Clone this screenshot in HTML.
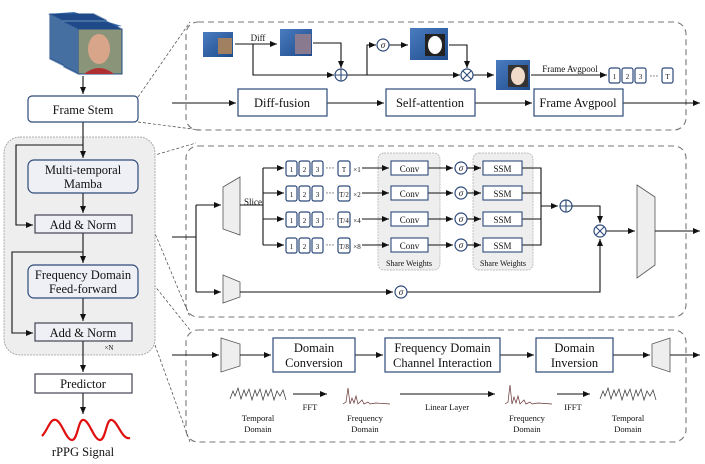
<!DOCTYPE html>
<html><head><meta charset="utf-8"><style>
body{margin:0;background:#fff}
svg text{font-family:"Liberation Serif",serif;fill:#111}
</style></head><body>
<svg width="705" height="459" viewBox="0 0 705 459" xmlns="http://www.w3.org/2000/svg">
<defs>
<marker id="a" markerWidth="8" markerHeight="8" refX="7" refY="4" orient="auto" markerUnits="userSpaceOnUse"><path d="M0,1 L7,4 L0,7Z" fill="#111"/></marker>
<linearGradient id="cube" x1="0" y1="0" x2="1" y2="1"><stop offset="0" stop-color="#4a7cc0"/><stop offset="1" stop-color="#1e4a8a"/></linearGradient>
<g id="sm"><rect width="11" height="15" rx="2" fill="#fff" stroke="#2d4a7a" stroke-width="1.2"/></g>
<g id="fr"><rect width="44" height="45" fill="#6f94b8" stroke="#1e4a8a" stroke-width="1"/></g>
</defs>
<g fill="none" stroke="#111" stroke-width="1.1">
<rect x="186" y="22" width="500" height="108" rx="12" stroke="#777" stroke-dasharray="6,4"/>
<rect x="186" y="146" width="500" height="171" rx="12" stroke="#777" stroke-dasharray="6,4"/>
<rect x="186" y="330" width="500" height="112" rx="12" stroke="#777" stroke-dasharray="6,4"/>
<path d="M138,97 L190,22 M138,122 L200,130 M138,160 L196,143 M138,193 L190,317 M138,265 L190,330 M138,298 L190,442" stroke="#444" stroke-width="0.7" stroke-dasharray="3,2"/>
<rect x="4" y="137" width="151" height="218" rx="16" fill="#eee" stroke="#999" stroke-dasharray="2,1" stroke-width="0.8"/>
</g>
<!-- face cube -->
<g>
<polygon points="48,14 74,12 122,26 78,30" fill="#3b6fb0"/>
<use href="#fr" x="50" y="14"/><use href="#fr" x="52" y="15"/><use href="#fr" x="54" y="16"/><use href="#fr" x="56" y="17"/>
<use href="#fr" x="58" y="18"/><use href="#fr" x="60" y="19"/><use href="#fr" x="62" y="20"/><use href="#fr" x="64" y="22"/>
<use href="#fr" x="66" y="23"/><use href="#fr" x="68" y="24"/><use href="#fr" x="70" y="25"/><use href="#fr" x="72" y="26"/>
<use href="#fr" x="74" y="27"/><use href="#fr" x="76" y="28"/>
<rect x="78" y="29" width="44" height="45" fill="#8a9478" stroke="#1e4a8a"/>
<ellipse cx="99" cy="49" rx="11" ry="15" fill="#d9a58a"/>
<path d="M84,74 Q99,62 114,74Z" fill="#b03030"/>
</g>
<g fill="none" stroke="#111" stroke-width="1.1">
<path d="M83,76 V94" marker-end="url(#a)"/>
<path d="M83,122 V158" marker-end="url(#a)"/>
<path d="M83,145 H16 V225 H33" marker-end="url(#a)"/>
<path d="M83,193 V213" marker-end="url(#a)"/>
<path d="M83,233 V263" marker-end="url(#a)"/>
<path d="M83,252 H12 V333 H33" marker-end="url(#a)"/>
<path d="M83,298 V321" marker-end="url(#a)"/>
<path d="M83,341 V372" marker-end="url(#a)"/>
<path d="M83,393 V414" marker-end="url(#a)"/>
</g>
<g stroke="#2d4a7a" stroke-width="1.2" fill="#fff">
<rect x="28" y="96" width="110" height="26" rx="4"/>
<rect x="28" y="160" width="110" height="33" rx="6" fill="#eef0f5"/>
<rect x="35" y="215" width="97" height="18" fill="#eef0f5" stroke="#445"/>
<rect x="28" y="265" width="110" height="33" rx="6" fill="#eef0f5"/>
<rect x="35" y="323" width="97" height="18" fill="#eef0f5" stroke="#445"/>
<rect x="35" y="374" width="97" height="19" stroke="#445"/>
</g>
<g font-size="12.5" text-anchor="middle">
<text x="83" y="114">Frame Stem</text>
<text x="83" y="174">Multi-temporal</text><text x="83" y="188">Mamba</text>
<text x="83" y="229">Add &amp; Norm</text>
<text x="83" y="279">Frequency Domain</text><text x="83" y="293">Feed-forward</text>
<text x="83" y="337">Add &amp; Norm</text>
<text x="83" y="388">Predictor</text>
<text x="83" y="456">rPPG Signal</text>
<text x="109" y="350" font-size="7">×N</text>
</g>
<path d="M42,436 C48,430 50,418 56,420 C62,422 66,440 72,440 C78,440 78,418 84,420 C90,422 94,440 100,440 C106,440 106,418 112,420 C118,422 122,440 130,438" fill="none" stroke="#e01010" stroke-width="2.2"/>

<!-- TOP PANEL -->
<g>
<rect x="203" y="32" width="30" height="25" fill="url(#cube)"/><rect x="218" y="38" width="14" height="16" fill="#a08060"/>
<rect x="280" y="29" width="32" height="27" fill="url(#cube)"/><rect x="295" y="34" width="16" height="20" fill="#8a7a90"/>
<rect x="410" y="28" width="38" height="32" fill="url(#cube)"/><rect x="425" y="34" width="20" height="22" fill="#222"/><ellipse cx="435" cy="45" rx="7" ry="9" fill="#fff"/>
<rect x="496" y="60" width="34" height="30" fill="url(#cube)"/><rect x="508" y="65" width="20" height="22" fill="#333"/><ellipse cx="518" cy="76" rx="7" ry="9" fill="#f0dcc8"/>
</g>
<g fill="none" stroke="#111" stroke-width="1.1">
<path d="M235,44 H277" marker-end="url(#a)"/>
<path d="M253,44 V75 H334" marker-end="url(#a)"/>
<path d="M313,43 H341 V68" marker-end="url(#a)"/>
<path d="M347,75 H460" marker-end="url(#a)"/>
<path d="M367,75 V45 H376" marker-end="url(#a)"/>
<path d="M389,45 H408" marker-end="url(#a)"/>
<path d="M449,45 H467 V68" marker-end="url(#a)"/>
<path d="M473,75 H494" marker-end="url(#a)"/>
<path d="M531,75 H607" marker-end="url(#a)"/>
<path d="M172,103 H236" marker-end="url(#a)"/>
<path d="M327,103 H384" marker-end="url(#a)"/>
<path d="M475,103 H532" marker-end="url(#a)"/>
<path d="M623,103 H700" marker-end="url(#a)"/>
<g stroke="#2d4a7a" fill="#fff" stroke-width="1.2">
<circle cx="341" cy="75" r="6"/><circle cx="467" cy="75" r="6"/><circle cx="383" cy="45" r="6"/>
</g>
<path d="M335,75 H347 M341,69 V81 M463,71 L471,79 M471,71 L463,79" stroke="#2d4a7a"/>
<g stroke="#2d4a7a" stroke-width="1.2" fill="#fff">
<rect x="238" y="89" width="89" height="27"/><rect x="386" y="89" width="89" height="27"/><rect x="534" y="89" width="89" height="27"/>
</g>
</g>
<use href="#sm" x="609" y="68"/><use href="#sm" x="622" y="68"/><use href="#sm" x="635" y="68"/><use href="#sm" x="662" y="68"/>
<g font-size="12.5" text-anchor="middle">
<text x="282" y="107">Diff-fusion</text><text x="430" y="107">Self-attention</text><text x="578" y="107">Frame Avgpool</text>
</g>
<g font-size="9" text-anchor="middle">
<text x="258" y="41">Diff</text><text x="570" y="72">Frame Avgpool</text>
<text x="383" y="48" font-style="italic">σ</text>
<text x="614.5" y="79" font-size="7">1</text><text x="627.5" y="79" font-size="7">2</text><text x="640.5" y="79" font-size="7">3</text><text x="654" y="79">···</text><text x="667.5" y="79" font-size="7">T</text>
</g>

<!-- MIDDLE PANEL -->
<rect x="378" y="153" width="62" height="117" rx="6" fill="#eee" stroke="#aaa" stroke-dasharray="2,1" stroke-width="0.7"/>
<rect x="473" y="153" width="60" height="117" rx="6" fill="#eee" stroke="#aaa" stroke-dasharray="2,1" stroke-width="0.7"/>
<g fill="#eee" stroke="#555" stroke-width="0.8">
<polygon points="223,187 240,177 240,235 223,229"/>
<polygon points="223,275 240,282 240,297 223,303"/>
<polygon points="637,185 655,197 655,265 637,278"/>
</g>
<g fill="none" stroke="#111" stroke-width="1.1">
<path d="M172,237 H196 M196,205 V292"/>
<path d="M196,205 H221" marker-end="url(#a)"/>
<path d="M196,292 H221" marker-end="url(#a)"/>
<path d="M240,205 H263 M263,168 V245"/>
<path d="M263,168 H284" marker-end="url(#a)"/><path d="M263,193 H284" marker-end="url(#a)"/>
<path d="M263,219 H284" marker-end="url(#a)"/><path d="M263,245 H284" marker-end="url(#a)"/>
<path d="M362,168 H389" marker-end="url(#a)"/><path d="M362,193 H389" marker-end="url(#a)"/>
<path d="M362,219 H389" marker-end="url(#a)"/><path d="M362,245 H389" marker-end="url(#a)"/>
<path d="M428,168 H453" marker-end="url(#a)"/><path d="M428,193 H453" marker-end="url(#a)"/>
<path d="M428,219 H453" marker-end="url(#a)"/><path d="M428,245 H453" marker-end="url(#a)"/>
<path d="M467,168 H481" marker-end="url(#a)"/><path d="M467,193 H481" marker-end="url(#a)"/>
<path d="M467,219 H481" marker-end="url(#a)"/><path d="M467,245 H481" marker-end="url(#a)"/>
<path d="M522,168 H541 V245 H522 M522,193 H541 M522,219 H541"/>
<path d="M541,206 H558" marker-end="url(#a)"/>
<path d="M572,206 H600 V223" marker-end="url(#a)"/>
<path d="M240,292 H393" marker-end="url(#a)"/>
<path d="M407,292 H600 V239" marker-end="url(#a)"/>
<path d="M606,231 H635" marker-end="url(#a)"/>
<path d="M655,231 H700" marker-end="url(#a)"/>
<g stroke="#2d4a7a" fill="#fff" stroke-width="1.2">
<circle cx="566" cy="206" r="6"/><circle cx="600" cy="231" r="6"/>
<circle cx="461" cy="168" r="6"/><circle cx="461" cy="193" r="6"/><circle cx="461" cy="219" r="6"/><circle cx="461" cy="245" r="6"/><circle cx="401" cy="292" r="6"/>
</g>
<path d="M560,206 H572 M566,200 V212 M596,227 L604,235 M604,227 L596,235" stroke="#2d4a7a"/>
<g stroke="#2d4a7a" stroke-width="1.1" fill="#fff">
<rect x="391" y="161" width="37" height="14"/><rect x="391" y="186" width="37" height="14"/><rect x="391" y="212" width="37" height="14"/><rect x="391" y="238" width="37" height="14"/>
<rect x="483" y="161" width="39" height="14"/><rect x="483" y="186" width="39" height="14"/><rect x="483" y="212" width="39" height="14"/><rect x="483" y="238" width="39" height="14"/>
</g>
</g>
<g>
<use href="#sm" x="286" y="161"/><use href="#sm" x="299" y="161"/><use href="#sm" x="312" y="161"/><rect x="338" y="161" width="12" height="15" rx="2" fill="#fff" stroke="#2d4a7a" stroke-width="1.2"/>
<use href="#sm" x="286" y="186"/><use href="#sm" x="299" y="186"/><use href="#sm" x="312" y="186"/><rect x="338" y="186" width="12" height="15" rx="2" fill="#fff" stroke="#2d4a7a" stroke-width="1.2"/>
<use href="#sm" x="286" y="212"/><use href="#sm" x="299" y="212"/><use href="#sm" x="312" y="212"/><rect x="338" y="212" width="12" height="15" rx="2" fill="#fff" stroke="#2d4a7a" stroke-width="1.2"/>
<use href="#sm" x="286" y="238"/><use href="#sm" x="299" y="238"/><use href="#sm" x="312" y="238"/><rect x="338" y="238" width="12" height="15" rx="2" fill="#fff" stroke="#2d4a7a" stroke-width="1.2"/>
</g>
<g font-size="7" text-anchor="middle">
<text x="291.5" y="172">1</text><text x="304.5" y="172">2</text><text x="317.5" y="172">3</text><text x="344" y="172">T</text><text x="357" y="172">×1</text>
<text x="291.5" y="197">1</text><text x="304.5" y="197">2</text><text x="317.5" y="197">3</text><text x="344" y="197">T/2</text><text x="357" y="197">×2</text>
<text x="291.5" y="223">1</text><text x="304.5" y="223">2</text><text x="317.5" y="223">3</text><text x="344" y="223">T/4</text><text x="357" y="223">×4</text>
<text x="291.5" y="249">1</text><text x="304.5" y="249">2</text><text x="317.5" y="249">3</text><text x="344" y="249">T/8</text><text x="357" y="249">×8</text>
</g>
<g font-size="9" text-anchor="middle">
<text x="330" y="171">···</text><text x="330" y="196">···</text><text x="330" y="222">···</text><text x="330" y="248">···</text>
<text x="253" y="205">Slice</text>
<text x="409.5" y="172">Conv</text><text x="409.5" y="197">Conv</text><text x="409.5" y="223">Conv</text><text x="409.5" y="249">Conv</text>
<text x="502.5" y="172">SSM</text><text x="502.5" y="197">SSM</text><text x="502.5" y="223">SSM</text><text x="502.5" y="249">SSM</text>
<text x="409" y="266" font-size="8">Share Weights</text><text x="503" y="266" font-size="8">Share Weights</text>
<g font-style="italic"><text x="461" y="171">σ</text><text x="461" y="196">σ</text><text x="461" y="222">σ</text><text x="461" y="248">σ</text><text x="401" y="295">σ</text></g>
</g>

<!-- BOTTOM PANEL -->
<g fill="#eee" stroke="#555" stroke-width="0.8">
<polygon points="221,338 240,344 240,366 221,372"/>
<polygon points="652,344 670,338 670,372 652,366"/>
</g>
<g fill="none" stroke="#111" stroke-width="1.1">
<path d="M172,355 H219" marker-end="url(#a)"/>
<path d="M240,355 H271" marker-end="url(#a)"/>
<path d="M355,355 H383" marker-end="url(#a)"/>
<path d="M500,355 H534" marker-end="url(#a)"/>
<path d="M613,355 H650" marker-end="url(#a)"/>
<path d="M670,355 H700" marker-end="url(#a)"/>
<path d="M293,394 H327" marker-end="url(#a)"/>
<path d="M400,394 H495" marker-end="url(#a)"/>
<path d="M557,394 H590" marker-end="url(#a)"/>
<g stroke="#2d4a7a" stroke-width="1.2" fill="#fff">
<rect x="273" y="338" width="82" height="34"/><rect x="385" y="338" width="115" height="34"/><rect x="536" y="338" width="77" height="34"/>
</g>
<g stroke="#333" stroke-width="0.7">
<path d="M230,399 L233,391 235,396 238,388 241,399 244,390 246,396 249,389 252,400 255,390 257,396 260,389 263,400 266,390 268,396 271,389 274,400 277,391 280,396 283,390 286,400"/>
<path d="M600,399 L603,391 605,396 608,388 611,399 614,390 616,396 619,389 622,400 625,390 627,396 630,389 633,400 636,390 638,396 641,389 644,400 647,391 650,396 653,390 656,400"/>
<path d="M343,404 L346,402 348,388 350,404 352,398 354,403 356,396 358,404 362,400 364,404 368,402 370,404 376,403 390,404" stroke="#633"/>
<path d="M505,404 L508,402 510,385 512,404 514,397 516,403 518,396 520,404 524,400 526,404 530,402 532,404 538,403 552,404" stroke="#633"/>
</g>
</g>
<g font-size="12.5" text-anchor="middle">
<text x="314" y="352">Domain</text><text x="314" y="367">Conversion</text>
<text x="442.5" y="352">Frequency Domain</text><text x="442.5" y="367">Channel Interaction</text>
<text x="574.5" y="352">Domain</text><text x="574.5" y="367">Inversion</text>
</g>
<g font-size="8.5" text-anchor="middle">
<text x="310" y="410">FFT</text><text x="447" y="410">Linear Layer</text><text x="573" y="410">IFFT</text>
<text x="258" y="421">Temporal</text><text x="258" y="432">Domain</text>
<text x="365" y="421">Frequency</text><text x="365" y="432">Domain</text>
<text x="527" y="421">Frequency</text><text x="527" y="432">Domain</text>
<text x="628" y="421">Temporal</text><text x="628" y="432">Domain</text>
</g>
</svg>
</body></html>
